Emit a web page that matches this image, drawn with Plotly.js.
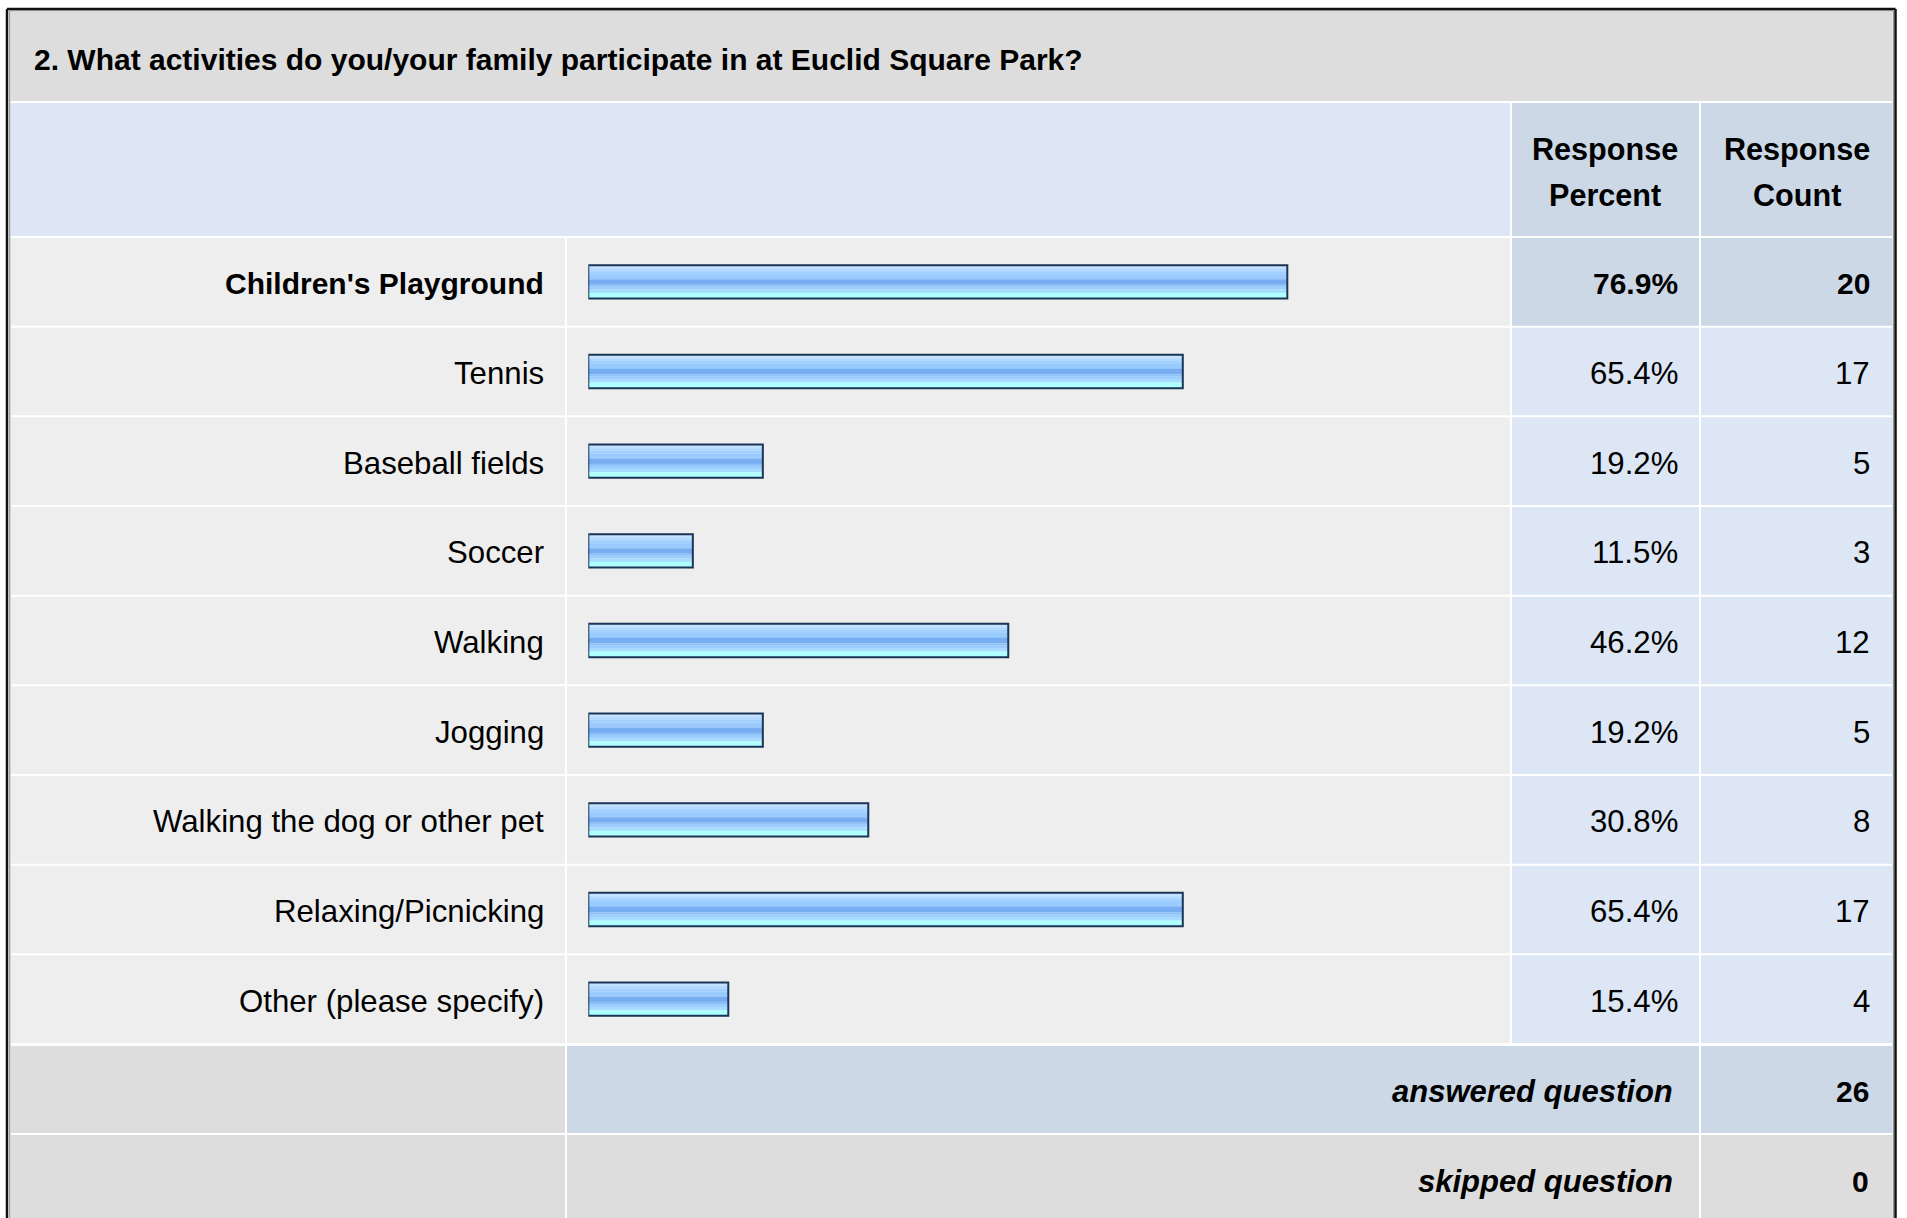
<!DOCTYPE html>
<html>
<head>
<meta charset="utf-8">
<script src="https://cdn.plot.ly/plotly-3.0.1.min.js"></script>
<style>
  html, body { margin: 0; padding: 0; background: #ffffff; }
  #chart { width: 1907px; height: 1218px; }
</style>
</head>
<body>
<div id="chart"></div>
<script>
// ---------------- data ----------------
const questionTitle = "2. What activities do you/your family participate in at Euclid Square Park?";
const categories = [
  "Children's Playground",
  "Tennis",
  "Baseball fields",
  "Soccer",
  "Walking",
  "Jogging",
  "Walking the dog or other pet",
  "Relaxing/Picnicking",
  "Other (please specify)"
];
const responsePercent = [76.9, 65.4, 19.2, 11.5, 46.2, 19.2, 30.8, 65.4, 15.4];
const responseCount = [20, 17, 5, 3, 12, 5, 8, 17, 4];
const headerPercent = ["Response", "Percent"];
const headerCount = ["Response", "Count"];
const answeredLabel = "answered question";
const answeredCount = 26;
const skippedLabel = "skipped question";
const skippedCount = 0;

// ---------------- geometry helpers ----------------
const W = 1907, H = 1218;
const FONT = "Liberation Sans, Arial, Helvetica, sans-serif";
const px = x => x / W;
const py = y => 1 - y / H;

const tableTop = 237, tableBottom = 1044;
const rowH = (tableBottom - tableTop) / categories.length;
const colLabel = [11, 565], colBar = [567, 1510], colPct = [1512, 1699], colCnt = [1701, 1892];
const C_TITLE = "#dddddd", C_HEAD = "#dce6f4", C_HEAD2 = "#ccd8e6", C_ROW = "#eeeeee", C_DATA = "#dce6f4";

const shapes = [];
function rect(x0, y0, x1, y1, color) {
  shapes.push({type: "rect", xref: "paper", yref: "paper", layer: "below",
    x0: px(x0), x1: px(x1), y0: py(y1), y1: py(y0), fillcolor: color, line: {width: 0}});
}
function line(x0, y0, x1, y1, color, w) {
  shapes.push({type: "line", xref: "paper", yref: "paper", layer: "above",
    x0: px(x0), x1: px(x1), y0: py(y0), y1: py(y1), line: {color: color, width: w}});
}

// title band + header
rect(11, 12, 1892, 101, C_TITLE);
rect(11, 103, 1510, 236, C_HEAD);
rect(colPct[0], 103, colPct[1], 236, C_HEAD2);
rect(colCnt[0], 103, colCnt[1], 236, C_HEAD2);

// data rows
categories.forEach((c, i) => {
  const t = tableTop + i * rowH + 1, b = tableTop + (i + 1) * rowH - 1;
  rect(colLabel[0], t, colLabel[1], b, C_ROW);
  rect(colBar[0], t, colBar[1], b, C_ROW);
  const dc = i === 0 ? C_HEAD2 : C_DATA;
  rect(colPct[0], t, colPct[1], b, dc);
  rect(colCnt[0], t, colCnt[1], b, dc);
});

// answered / skipped rows
rect(colLabel[0], 1046, colLabel[1], 1133, C_TITLE);
rect(colBar[0], 1046, colPct[1], 1133, C_HEAD2);
rect(colCnt[0], 1046, colCnt[1], 1133, C_HEAD2);
rect(colLabel[0], 1135, colLabel[1], 1230, C_TITLE);
rect(colBar[0], 1135, colPct[1], 1230, C_TITLE);
rect(colCnt[0], 1135, colCnt[1], 1230, C_TITLE);

// outer border
line(7, 9, 7, 1230, "#111111", 2.5);
line(7, 9, 1895.5, 9, "#111111", 2.5);
line(1895.5, 9, 1895.5, 1230, "#111111", 2.5);
line(9.8, 10.8, 9.8, 1230, "#777777", 1);
line(9.8, 10.8, 1893.3, 10.8, "#777777", 1);
line(1893.3, 10.8, 1893.3, 1230, "#777777", 1);

// ---------------- bars (striped gradient) ----------------
const barPx = 33.4;                 // geometric bar height in px
const stripes = [                   // [fromPx, toPx, colour] measured from bar top
  [0, 3.4, "#c6e2ff"],
  [3.4, 6.2, "#b2d9ff"],
  [6.2, 9.2, "#a2d0ff"],
  [9.2, 14, "#9acbff"],
  [14, 19.4, "#79adf1"],
  [19.4, 21.5, "#8ec0f8"],
  [21.5, 24.3, "#9bcdff"],
  [24.3, 27.7, "#a8dcff"],
  [27.7, 33.4, "#b0ffff"]
];
const traces = stripes.map(s => ({
  type: "bar", orientation: "h",
  y: categories, x: responsePercent,
  offset: (s[0] - barPx / 2) / rowH,
  width: (s[1] - s[0] + 0.15) / rowH,
  marker: {color: s[2], line: {width: 0}},
  hoverinfo: "skip", showlegend: false
}));
traces.push({
  type: "bar", orientation: "h",
  y: categories, x: responsePercent,
  offset: -barPx / 2 / rowH,
  width: barPx / rowH,
  marker: {color: "rgba(0,0,0,0)", line: {color: "#1b3556", width: 2}},
  hoverinfo: "skip", showlegend: false
});

// ---------------- text ----------------
const ann = [];
function txt(x, y, text, anchor, size) {
  ann.push({
    xref: "paper", yref: "paper", x: px(x), y: py(y), text: text,
    xanchor: anchor, yanchor: "middle", showarrow: false,
    font: {family: FONT, size: size || 30, color: "#000000"}
  });
}
txt(32, 59.5, "<b>" + questionTitle + "</b>", "left", 30);
txt(1605, 150, "<b>" + headerPercent[0] + "</b>", "center", 30.6);
txt(1605, 195, "<b>" + headerPercent[1] + "</b>", "center", 30.6);
txt(1797, 150, "<b>" + headerCount[0] + "</b>", "center", 30.6);
txt(1797, 195, "<b>" + headerCount[1] + "</b>", "center", 30.6);

categories.forEach((c, i) => {
  const b = i === 0;
  const wrap = s => b ? "<b>" + s + "</b>" : s;
  const size = b ? 30 : 31.2;
  const mk = (x, text) => ({xref: "paper", yref: "y", x: px(x), y: c, text: wrap(text),
    xanchor: "right", yanchor: "middle", yshift: -2, showarrow: false,
    font: {family: FONT, size: size, color: "#000000"}});
  ann.push(mk(546, c));
  ann.push(mk(1680, responsePercent[i].toFixed(1) + "%"));
  ann.push(mk(1872, String(responseCount[i])));
});

txt(1675, 1091, "<b><i>" + answeredLabel + "</i></b>", "right", 31);
txt(1871, 1091, "<b>" + answeredCount + "</b>", "right", 30);
txt(1675, 1181, "<b><i>" + skippedLabel + "</i></b>", "right", 31);
txt(1871, 1181, "<b>" + skippedCount + "</b>", "right", 30);

// ---------------- layout ----------------
const layout = {
  width: W, height: H,
  margin: {l: 0, r: 0, t: 0, b: 0, pad: 0},
  paper_bgcolor: "#ffffff",
  plot_bgcolor: "rgba(0,0,0,0)",
  barmode: "overlay",
  showlegend: false,
  xaxis: {domain: [px(588.3), px(588.3 + 909)], range: [0, 100], visible: false, fixedrange: true},
  yaxis: {domain: [py(tableBottom), py(tableTop)], type: "category", categoryorder: "array",
          categoryarray: categories, range: [categories.length - 0.5, -0.5], visible: false, fixedrange: true},
  shapes: shapes,
  annotations: ann
};

Plotly.newPlot("chart", traces, layout, {displayModeBar: false, staticPlot: true});
</script>
</body>
</html>
